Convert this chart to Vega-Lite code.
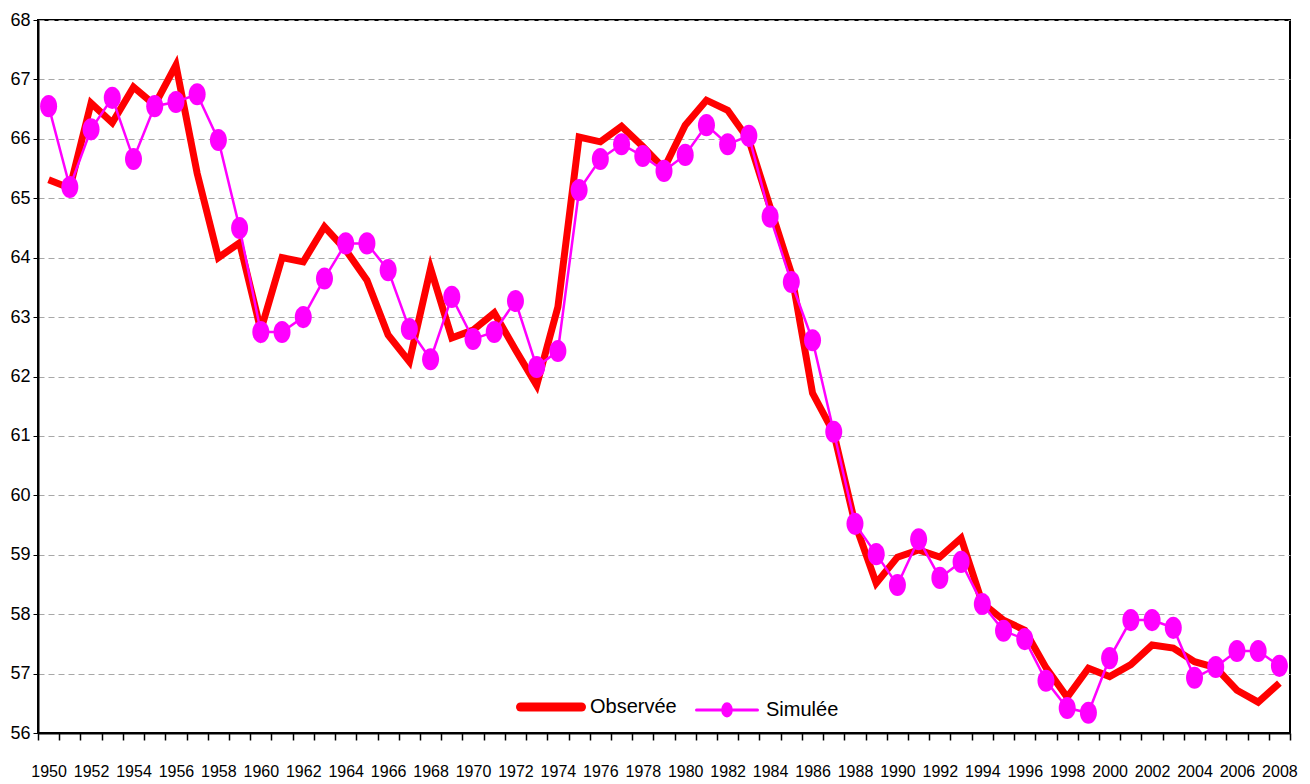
{
  "$schema": "https://vega.github.io/schema/vega-lite/v6.json",
  "width": 1252,
  "height": 713,
  "autosize": {"type": "none"},
  "padding": {"left": 38, "top": 20, "right": 20, "bottom": 51},
  "background": "white",
  "config": {
    "view": {"stroke": "black", "strokeWidth": 2},
    "font": "Liberation Sans, Arial"
  },
  "data": {
    "values": [
      {"year": 1950, "Observée": 65.31, "Simulée": 66.55},
      {"year": 1951, "Observée": 65.17, "Simulée": 65.19},
      {"year": 1952, "Observée": 66.6, "Simulée": 66.16},
      {"year": 1953, "Observée": 66.27, "Simulée": 66.69},
      {"year": 1954, "Observée": 66.87, "Simulée": 65.66},
      {"year": 1955, "Observée": 66.57, "Simulée": 66.55},
      {"year": 1956, "Observée": 67.24, "Simulée": 66.62},
      {"year": 1957, "Observée": 65.42, "Simulée": 66.75},
      {"year": 1958, "Observée": 64.0, "Simulée": 65.98},
      {"year": 1959, "Observée": 64.25, "Simulée": 64.5},
      {"year": 1960, "Observée": 62.78, "Simulée": 62.75},
      {"year": 1961, "Observée": 64.0, "Simulée": 62.75},
      {"year": 1962, "Observée": 63.93, "Simulée": 63.0},
      {"year": 1963, "Observée": 64.52, "Simulée": 63.65},
      {"year": 1964, "Observée": 64.13, "Simulée": 64.24},
      {"year": 1965, "Observée": 63.62, "Simulée": 64.24},
      {"year": 1966, "Observée": 62.7, "Simulée": 63.79},
      {"year": 1967, "Observée": 62.25, "Simulée": 62.8},
      {"year": 1968, "Observée": 63.82, "Simulée": 62.29},
      {"year": 1969, "Observée": 62.65, "Simulée": 63.34},
      {"year": 1970, "Observée": 62.78, "Simulée": 62.63},
      {"year": 1971, "Observée": 63.07, "Simulée": 62.75},
      {"year": 1972, "Observée": 62.45, "Simulée": 63.27},
      {"year": 1973, "Observée": 61.85, "Simulée": 62.16},
      {"year": 1974, "Observée": 63.17, "Simulée": 62.43},
      {"year": 1975, "Observée": 66.03, "Simulée": 65.14},
      {"year": 1976, "Observée": 65.95, "Simulée": 65.66},
      {"year": 1977, "Observée": 66.21, "Simulée": 65.91},
      {"year": 1978, "Observée": 65.87, "Simulée": 65.71},
      {"year": 1979, "Observée": 65.5, "Simulée": 65.46},
      {"year": 1980, "Observée": 66.23, "Simulée": 65.73},
      {"year": 1981, "Observée": 66.65, "Simulée": 66.23},
      {"year": 1982, "Observée": 66.48, "Simulée": 65.91},
      {"year": 1983, "Observée": 65.98, "Simulée": 66.05},
      {"year": 1984, "Observée": 64.85, "Simulée": 64.69},
      {"year": 1985, "Observée": 63.74, "Simulée": 63.59},
      {"year": 1986, "Observée": 61.72, "Simulée": 62.61},
      {"year": 1987, "Observée": 61.05, "Simulée": 61.07},
      {"year": 1988, "Observée": 59.53, "Simulée": 59.52},
      {"year": 1989, "Observée": 58.52, "Simulée": 59.01},
      {"year": 1990, "Observée": 58.96, "Simulée": 58.49},
      {"year": 1991, "Observée": 59.08, "Simulée": 59.26},
      {"year": 1992, "Observée": 58.96, "Simulée": 58.61},
      {"year": 1993, "Observée": 59.28, "Simulée": 58.88},
      {"year": 1994, "Observée": 58.19, "Simulée": 58.17},
      {"year": 1995, "Observée": 57.9, "Simulée": 57.72},
      {"year": 1996, "Observée": 57.73, "Simulée": 57.58},
      {"year": 1997, "Observée": 57.1, "Simulée": 56.88},
      {"year": 1998, "Observée": 56.6, "Simulée": 56.42},
      {"year": 1999, "Observée": 57.09, "Simulée": 56.34},
      {"year": 2000, "Observée": 56.95, "Simulée": 57.26},
      {"year": 2001, "Observée": 57.15, "Simulée": 57.9},
      {"year": 2002, "Observée": 57.48, "Simulée": 57.9},
      {"year": 2003, "Observée": 57.43, "Simulée": 57.77},
      {"year": 2004, "Observée": 57.2, "Simulée": 56.93},
      {"year": 2005, "Observée": 57.1, "Simulée": 57.11},
      {"year": 2006, "Observée": 56.72, "Simulée": 57.38},
      {"year": 2007, "Observée": 56.52, "Simulée": 57.38},
      {"year": 2008, "Observée": 56.84, "Simulée": 57.13}
    ]
  },
  "transform": [{"fold": ["Observée", "Simulée"], "as": ["serie", "value"]}],
  "encoding": {
    "x": {
      "field": "year",
      "type": "ordinal",
      "bandPosition": 0.5,
      "scale": {"type": "band", "paddingInner": 0, "paddingOuter": 0},
      "axis": {
        "title": null,
        "tickBand": "extent",
        "labelExpr": "datum.value % 2 === 0 ? datum.label : ''",
        "labelAngle": 0,
        "labelOverlap": false,
        "labelBound": false,
        "labelFlush": false,
        "labelFontSize": 16,
        "labelColor": "black",
        "labelPadding": 23,
        "tickSize": 7,
        "tickColor": "black",
        "tickWidth": 1.5,
        "domainColor": "black",
        "domainWidth": 2,
        "grid": false
      }
    },
    "y": {
      "field": "value",
      "type": "quantitative",
      "scale": {"domain": [56, 68], "nice": false, "zero": false},
      "axis": {
        "title": null,
        "values": [56, 57, 58, 59, 60, 61, 62, 63, 64, 65, 66, 67, 68],
        "labelFontSize": 18,
        "labelColor": "black",
        "labelPadding": 3,
        "tickSize": 5,
        "tickColor": "black",
        "domainColor": "black",
        "domainWidth": 2,
        "grid": true,
        "gridColor": "#a8a8a8",
        "gridDash": [6, 4],
        "gridWidth": 1.2
      }
    },
    "color": {
      "field": "serie",
      "type": "nominal",
      "scale": {"domain": ["Observée", "Simulée"], "range": ["#ff0000", "#ff00ff"]},
      "legend": {
        "orient": "none",
        "legendX": 469,
        "legendY": 677,
        "direction": "horizontal",
        "title": null,
        "symbolType": "stroke",
        "symbolSize": 3721,
        "symbolOffset": 34,
        "labelFontSize": 20,
        "labelColor": "black",
        "labelOffset": 29,
        "columnPadding": 6,
        "encode": {
          "symbols": {
            "update": {
              "strokeWidth": {"signal": "datum.value === 'Observée' ? 9 : 3"},
              "shape": {"signal": "datum.value === 'Observée' ? 'stroke' : 'M-1,0L1,0M0.14,0A0.14,0.2,0,1,1,-0.14,0A0.14,0.2,0,1,1,0.14,0Z'"},
              "fill": {"signal": "datum.value === 'Observée' ? 'transparent' : '#ff00ff'"},
              "strokeCap": {"value": "round"}
            }
          }
        }
      }
    }
  },
  "layer": [
    {
      "transform": [{"filter": "datum.serie === 'Observée'"}],
      "mark": {"type": "line", "strokeWidth": 7, "strokeJoin": "miter"}
    },
    {
      "transform": [{"filter": "datum.serie === 'Simulée'"}],
      "mark": {
        "type": "line",
        "strokeWidth": 2.5,
        "point": {
          "filled": true,
          "size": 289,
          "opacity": 1,
          "shape": "M1,0A1,1.3,0,1,1,-1,0A1,1.3,0,1,1,1,0Z"
        }
      }
    }
  ]
}
